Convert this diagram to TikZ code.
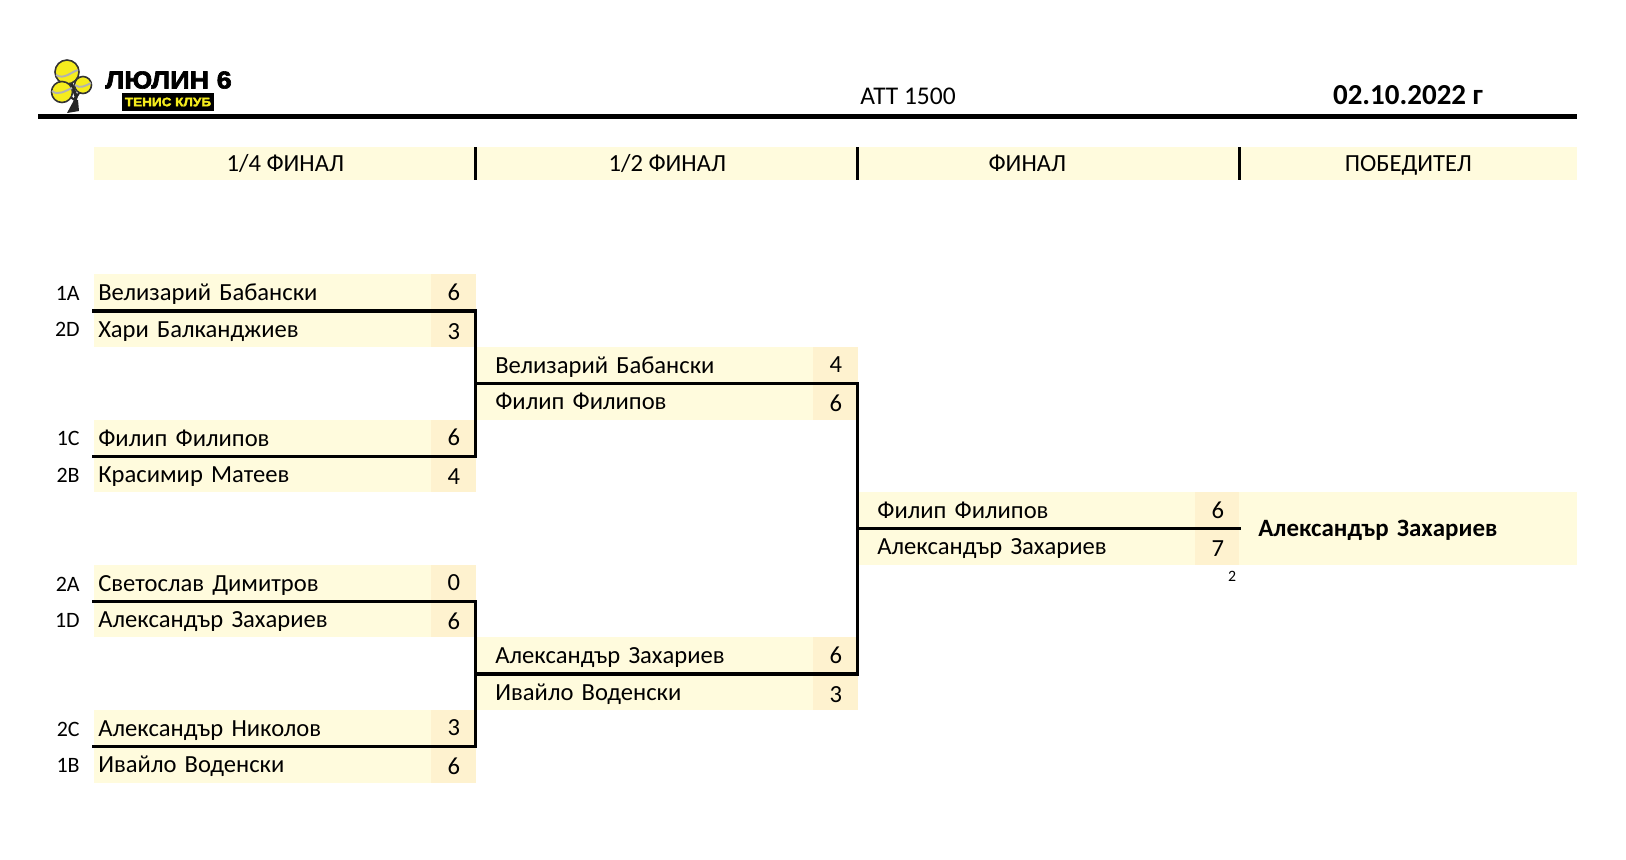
\documentclass[tikz,border=0pt]{standalone}
\usepackage{fontspec}
\setmainfont{Carlito}
\newfontfamily\logofont[FakeBold=2.5,FakeStretch=1.1]{Liberation Sans Bold}
\usetikzlibrary{calc}
\definecolor{cellbg}{HTML}{FFFBDD}
\definecolor{scorebg}{HTML}{FEF2CF}
\definecolor{logoyellow}{HTML}{F5EC1E}
\tikzset{
    namecell/.style={anchor=north west, fill=cellbg, minimum height=0.726cm, inner ysep=0pt,
        inner xsep=#1, text width={6.74cm-2*#1}, align=left, text height=12pt, text depth=2.5pt, font=\fontsize{14}{16}\selectfont},
    scorecell/.style={anchor=north west, fill=scorebg, minimum height=0.726cm, minimum width=0.9cm, inner sep=0pt,
        text height=#1, text depth=2.5pt, font=\fontsize{14}{16}\selectfont},
    headcell/.style={anchor=north west, fill=cellbg, minimum height=0.65cm, minimum width=7.64cm, inner sep=0pt,
        text height=12.4pt, text depth=3pt, font=\fontsize{14}{16}\selectfont},
    seedlabel/.style={anchor=east, inner sep=0pt, font=\fontsize{12.5}{14}\selectfont},
    bracket/.style={line width=1.8pt, line cap=rect},
    headtick/.style={line width=1.8pt},
    treetop/.style={fill=logoyellow, draw=black!80, line width=0.9pt},
    swoosh/.style={black!30, line width=1.1pt},
}
\begin{document}
\begin{tikzpicture}[x=0.02cm, y=-0.02cm]
    \useasboundingbox (0,0) rectangle (1626,859);

    % logo
    \draw[line width=1.8pt, black!85] (74,111) -- (76,96) -- (70,80);
    \draw[line width=1.2pt, black!85] (75,100) -- (62,92);
    \draw[line width=1.2pt, black!85] (76,98) -- (83,86);
    \fill[black!85] (67,113) -- (74,100) -- (78,100) -- (79,111) -- cycle;
    \filldraw[treetop] (67,72) circle (12);
    \filldraw[treetop] (62,92) circle (10.5);
    \filldraw[treetop] (83,85) circle (8.5);
    \draw[swoosh] (56,75) .. controls (64,80) and (71,72) .. (78,70);
    \draw[swoosh] (52,91) .. controls (58,96) and (65,91) .. (72,88);
    \draw[swoosh] (75,85) .. controls (80,89) and (85,86) .. (91,83);
    \node[anchor=west, inner sep=0pt, font=\logofont\fontsize{14}{15}\selectfont] (clubname) at (105,80) {ЛЮЛИН 6};
    \node[anchor=center, fill=black, minimum width=1.84cm, minimum height=0.36cm, inner sep=0pt,
        text=logoyellow, font=\logofont\fontsize{7}{8}\selectfont] (clubtag) at (168,102) {ТЕНИС КЛУБ};

    % top line
    \node[inner sep=0pt, font=\fontsize{14.5}{16}\selectfont] (event) at (908,96) {АТТ 1500};
    \node[inner sep=0pt, font=\bfseries\fontsize{16.5}{18}\selectfont] (date) at (1408,95) {02.10.2022 г};
    \coordinate (ruleL) at (38,116.5);
    \coordinate (ruleR) at (1577,116.5);
    \draw[line width=2.85pt] (ruleL) -- (ruleR);

    % headers
    \node[headcell] (h1) at (94,147) {1/4 ФИНАЛ};
    \node[headcell] (h2) at (476,147) {1/2 ФИНАЛ};
    \node[headcell] (h3) at (858,147) {ФИНАЛ\hspace*{0.88cm}};
    \node[headcell, minimum width=6.76cm] (h4) at (1239,147) {ПОБЕДИТЕЛ};
    \foreach \h in {h1,h2,h3}
        \draw[headtick] ([xshift=-0.03cm]\h.north east) -- ([xshift=-0.03cm]\h.south east);

    % 1/4 final
    \foreach \id/\row/\seed/\player/\score in {
        a/0/1A/Велизарий Бабански/6, b/1/2D/Хари Балканджиев/3,
        c/4/1C/Филип Филипов/6, d/5/2B/Красимир Матеев/4,
        e/8/2A/Светослав Димитров/0, f/9/1D/Александър Захариев/6,
        g/12/2C/Александър Николов/3, h/13/1B/Ивайло Воденски/6}
    {
        \pgfmathsetmacro{\scoreht}{isodd(\row) ? 14.2 : 11.3}
        \node[namecell=0.08cm] (n\id) at (94,274+36.3*\row) {\player};
        \node[scorecell=\scoreht pt] (s\id) at (431,274+36.3*\row) {\score};
        \node[seedlabel] (l\id) at (80,293.5+36.3*\row) {\seed};
    }

    % 1/2 final and final
    \foreach \id/\col/\row/\player/\score in {
        i/476/2/Велизарий Бабански/4, j/476/3/Филип Филипов/6,
        k/476/10/Александър Захариев/6, m/476/11/Ивайло Воденски/3,
        o/858/6/Филип Филипов/6, p/858/7/Александър Захариев/7}
    {
        \pgfmathsetmacro{\scoreht}{isodd(\row) ? 14.2 : 11.3}
        \node[namecell=0.38cm] (n\id) at (\col,274+36.3*\row) {\player};
        \node[scorecell=\scoreht pt] (s\id) at (\col+337,274+36.3*\row) {\score};
    }

    % winner
    \node[anchor=north west, fill=cellbg, minimum height=1.452cm, inner ysep=0pt, inner xsep=0.38cm,
        text width=5.99cm, align=left, text height=12pt, text depth=2.5pt,
        font=\bfseries\fontsize{14.2}{16}\selectfont] (winner) at (1239,491.8) {Александър Захариев};
    \node[inner sep=0pt, font=\fontsize{9}{10}\selectfont] (tiebreak) at (1232,576) {2};

    % brackets
    \draw[bracket] (na.south west) -- ([xshift=-0.03cm]sa.south east) -- ([xshift=-0.03cm]sc.south east) -- (nc.south west);
    \draw[bracket] (ne.south west) -- ([xshift=-0.03cm]se.south east) -- ([xshift=-0.03cm]sg.south east) -- (ng.south west);
    \draw[bracket] (ni.south west) -- ([xshift=-0.03cm]si.south east) -- ([xshift=-0.03cm]sk.south east) -- (nk.south west);
    \draw[bracket, line cap=butt] (no.south west) -- (so.south east);

\end{tikzpicture}
\end{document}
